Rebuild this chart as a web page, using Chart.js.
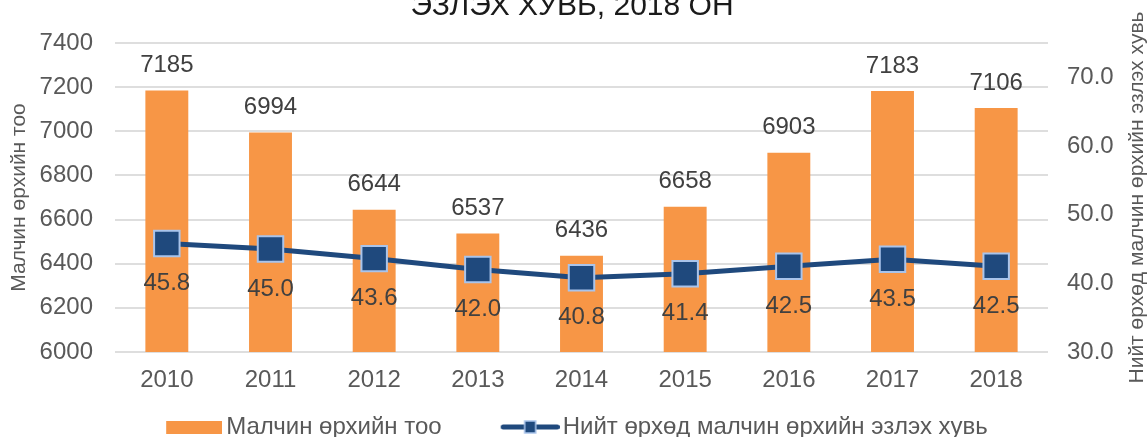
<!DOCTYPE html>
<html>
<head>
<meta charset="utf-8">
<script src="https://cdn.jsdelivr.net/npm/chart.js@4.4.1/dist/chart.umd.min.js"></script>
<style>
html,body{margin:0;padding:0;background:#fff;}
#wrap{width:1148px;height:437px;}
</style>
</head>
<body>
<div id="wrap"><canvas id="c" width="1148" height="437"></canvas></div>
<script>
const categories = ['2010', '2011', '2012', '2013', '2014', '2015', '2016', '2017', '2018'];
const herderHouseholds = [7185, 6994, 6644, 6537, 6436, 6658, 6903, 7183, 7106];
const herderShare = [45.8, 45.0, 43.6, 42.0, 40.8, 41.4, 42.5, 43.5, 42.5];
const seriesNames = ['Малчин өрхийн тоо', 'Нийт өрхөд малчин өрхийн эзлэх хувь'];
const chartTitle = 'ЭЗЛЭХ ХУВЬ, 2018 ОН';
const leftAxisTitle = 'Малчин өрхийн тоо';
const rightAxisTitle = 'Нийт өрхөд малчин өрхийн эзлэх хувь';

const FONT = '"Liberation Sans", Arial, sans-serif';
const BAR_COLOR = '#F79646';
const LINE_COLOR = '#1F497D';
const MARK_BORDER = '#A9C4EB';
const TICK_COLOR = '#595959';
const LABEL_COLOR = '#404040';

// legend symbol images (content at the right end, transparent lead-in on the left)
function makeBarSymbol() {
  const c = document.createElement('canvas');
  c.width = 103; c.height = 13;
  const g = c.getContext('2d');
  g.fillStyle = BAR_COLOR;
  g.fillRect(47, 0, 56, 13);
  return c;
}
function makeLineSymbol() {
  const c = document.createElement('canvas');
  c.width = 105; c.height = 16;
  const g = c.getContext('2d');
  g.strokeStyle = LINE_COLOR;
  g.lineWidth = 5;
  g.lineCap = 'round';
  g.beginPath(); g.moveTo(48.5, 8); g.lineTo(102.5, 8); g.stroke();
  g.fillStyle = LINE_COLOR;
  g.fillRect(70, 2, 11, 12);
  g.strokeStyle = MARK_BORDER;
  g.lineWidth = 1.5;
  g.strokeRect(70, 2, 11, 12);
  return c;
}
const legendSymbols = [makeBarSymbol(), makeLineSymbol()];

const dataLabelPlugin = {
  id: 'dataLabels',
  afterDatasetsDraw(chart) {
    const ctx = chart.ctx;
    ctx.save();
    ctx.font = '24px ' + FONT;
    ctx.fillStyle = LABEL_COLOR;
    ctx.textAlign = 'center';
    ctx.textBaseline = 'middle';
    chart.getDatasetMeta(0).data.forEach((el, i) => {
      ctx.fillText(String(herderHouseholds[i]), el.x, el.y - 25);
    });
    chart.getDatasetMeta(1).data.forEach((el, i) => {
      ctx.fillText(herderShare[i].toFixed(1), el.x, el.y + 40);
    });
    ctx.restore();
  }
};

const extraTextPlugin = {
  id: 'extraText',
  afterDraw(chart) {
    const ctx = chart.ctx;
    const a = chart.chartArea;
    ctx.save();
    // chart title (its upper part lies above the visible frame)
    ctx.font = '30px ' + FONT;
    ctx.fillStyle = '#1a1a1a';
    ctx.textAlign = 'center';
    ctx.textBaseline = 'alphabetic';
    ctx.fillText(chartTitle, chart.width / 2 - 2, 15);
    // right axis title, reading bottom to top
    ctx.translate(chart.width - 11, (a.top + a.bottom) / 2);
    ctx.rotate(-Math.PI / 2);
    ctx.font = '21px ' + FONT;
    ctx.fillStyle = TICK_COLOR;
    ctx.textBaseline = 'middle';
    ctx.fillText(rightAxisTitle, 0, 0);
    ctx.restore();
  }
};

new Chart(document.getElementById('c'), {
  data: {
    labels: categories,
    datasets: [
      {
        type: 'bar',
        label: seriesNames[0],
        data: herderHouseholds,
        backgroundColor: BAR_COLOR,
        borderWidth: 0,
        yAxisID: 'y',
        order: 2,
        categoryPercentage: 1.0,
        barPercentage: 0.414
      },
      {
        type: 'line',
        label: seriesNames[1],
        data: herderShare,
        borderColor: LINE_COLOR,
        borderWidth: 5,
        tension: 0,
        pointStyle: 'rect',
        pointRadius: 18,
        pointHoverRadius: 18,
        pointBackgroundColor: LINE_COLOR,
        pointBorderColor: MARK_BORDER,
        pointBorderWidth: 2,
        yAxisID: 'y1',
        order: 1
      }
    ]
  },
  options: {
    responsive: false,
    devicePixelRatio: 1,
    animation: false,
    layout: { padding: { left: 0, right: 33, top: 43, bottom: -12 } },
    plugins: {
      tooltip: { enabled: false },
      title: { display: false },
      legend: {
        display: true,
        position: 'bottom',
        labels: {
          usePointStyle: true,
          pointStyleWidth: 87,
          padding: 22,
          color: TICK_COLOR,
          font: { family: FONT, size: 24 },
          generateLabels(chart) {
            return seriesNames.map((name, i) => ({
              text: name,
              pointStyle: legendSymbols[i],
              fillStyle: 'transparent',
              strokeStyle: 'transparent',
              lineWidth: 0,
              hidden: false,
              datasetIndex: i,
              fontColor: TICK_COLOR
            }));
          }
        }
      }
    },
    scales: {
      x: {
        grid: { display: false, drawTicks: false },
        border: { display: false },
        ticks: { color: TICK_COLOR, font: { family: FONT, size: 24 }, padding: 13.6, maxRotation: 0 },
        afterFit(scale) { scale.height = 41; }
      },
      y: {
        position: 'left',
        min: 6000,
        max: 7400,
        ticks: {
          stepSize: 200,
          color: TICK_COLOR,
          font: { family: FONT, size: 24 },
          padding: 22,
          callback: (v) => String(v)
        },
        grid: { color: '#dedede', lineWidth: 2, drawTicks: false },
        border: { display: false },
        title: {
          display: true,
          text: leftAxisTitle,
          color: TICK_COLOR,
          font: { family: FONT, size: 21 },
          padding: { top: 7, bottom: 0 }
        },
        afterFit(scale) { scale.width = 115; }
      },
      y1: {
        position: 'right',
        min: 30,
        max: 75,
        ticks: {
          stepSize: 10,
          includeBounds: false,
          color: TICK_COLOR,
          font: { family: FONT, size: 24 },
          padding: 19,
          callback: (v) => Number(v).toFixed(1)
        },
        grid: { display: false, drawTicks: false },
        border: { display: false },
        afterFit(scale) { scale.width = 67; }
      }
    }
  },
  plugins: [dataLabelPlugin, extraTextPlugin]
});
</script>
</body>
</html>
